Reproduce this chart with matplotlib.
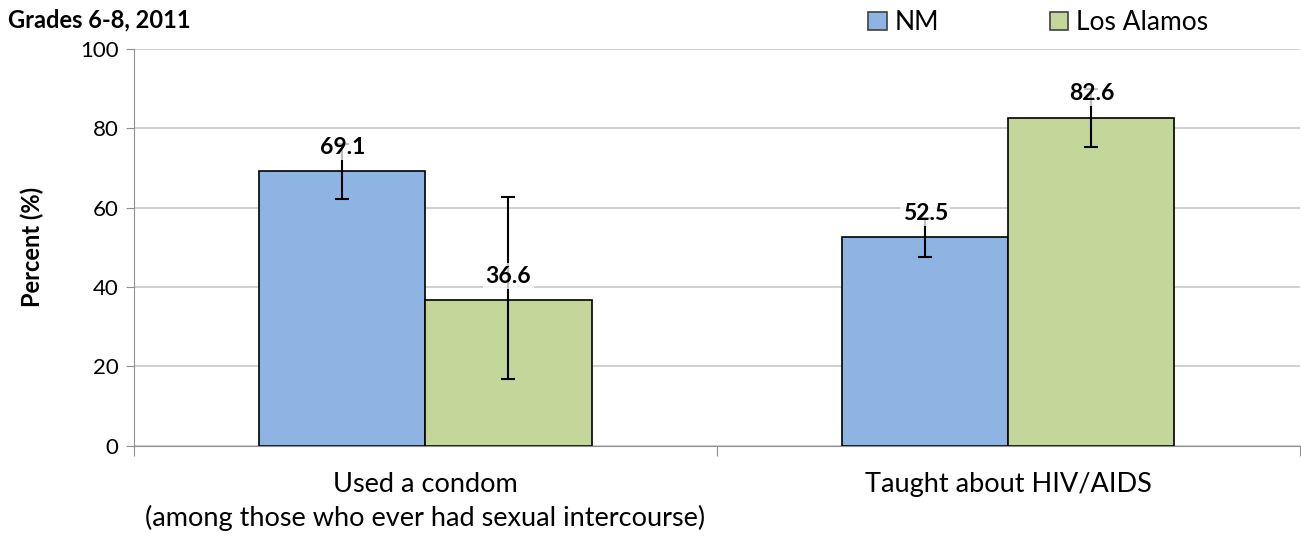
import numpy as np
import matplotlib
matplotlib.use("Agg")
import matplotlib.pyplot as plt
from matplotlib.patches import Patch

plt.rcParams['font.family'] = ['Lato', 'DejaVu Sans']

categories = ["Used a condom\n(among those who ever had sexual intercourse)", "Taught about HIV/AIDS"]
series_names = ["NM", "Los Alamos"]
nm_values = [69.1, 52.5]
la_values = [36.6, 82.6]
# lower / upper error lengths
nm_err = [[6.9, 4.9], [6.9, 4.9]]
la_err = [[19.9, 7.4], [26.0, 7.4]]
colors = ["#8EB4E3", "#C4D79B"]

fig = plt.figure(figsize=(13.01, 5.37), dpi=100)
ax = fig.add_axes([0.103, 0.170, 0.896, 0.739])

x = np.arange(len(categories))
w = 0.285
for vals, errs, col, off in [(nm_values, nm_err, colors[0], -w / 2), (la_values, la_err, colors[1], w / 2)]:
    ax.bar(x + off, vals, w, color=col, edgecolor="black", linewidth=1.2, zorder=2)
    ax.errorbar(x + off, vals, yerr=errs, fmt="none", ecolor="black", elinewidth=1.5,
                capsize=5, capthick=1.5, zorder=3)
    for xi, v in zip(x + off, vals):
        ax.annotate(f"{v:.1f}", (xi, v), xytext=(0, 17.5), textcoords="offset points",
                    ha="center", va="center", fontsize=16.5, fontweight="bold", zorder=4,
                    bbox=dict(boxstyle="square,pad=0.1", fc="white", ec="none", alpha=0.75))

ax.set_xlim(-0.5, 1.5)
ax.set_ylim(0, 100)
ax.set_yticks(range(0, 101, 20))
ax.yaxis.grid(True, color="#c8c8c8", linewidth=1.2, zorder=0)
ax.set_axisbelow(True)
for s in ["top", "right"]:
    ax.spines[s].set_visible(False)
ax.spines["left"].set_color("#909090")
ax.spines["bottom"].set_color("#909090")
ax.tick_params(axis="y", colors="#909090", labelcolor="black", labelsize=16, length=6,
               direction="out", pad=5)
ax.set_xticks([-0.5, 0.5, 1.5])
ax.set_xticklabels([])
ax.tick_params(axis="x", colors="#909090", length=7, direction="out")
for xi, lab in zip(x, categories):
    ax.text(xi, -6.5, lab, ha="center", va="top", fontsize=19.5, linespacing=1.42,
            transform=ax.transData)
ax.set_ylabel("Percent (%)", fontsize=17, fontweight="bold", labelpad=26)

fig.text(0.006, 0.962, "Grades 6-8, 2011", fontsize=17, fontweight="bold", va="center", ha="left")

handles = [Patch(facecolor=c, edgecolor="#404040", linewidth=1.2) for c in colors]
fig.legend(handles, series_names, loc="center", bbox_to_anchor=(0.798, 0.958), ncol=2,
           frameon=False, fontsize=19, handlelength=0.7, handleheight=0.7,
           handletextpad=0.3, columnspacing=4.2)

fig.savefig("out.png", dpi=100)
